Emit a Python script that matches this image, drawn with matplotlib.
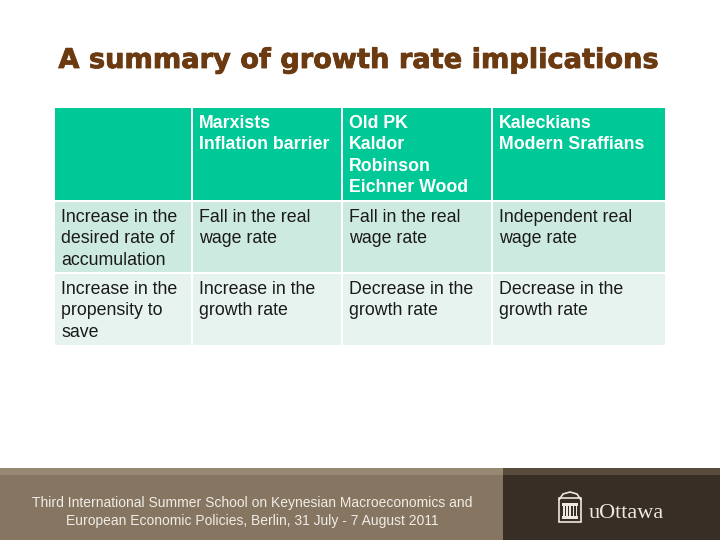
import matplotlib
matplotlib.use("Agg")
import matplotlib.pyplot as plt
import matplotlib.patches as mpatches
import matplotlib.patheffects as pe

TITLE = "A summary of growth rate implications"
COL_HEADERS = ["", "Marxists\nInflation barrier", "Old PK\nKaldor\nRobinson\nEichner Wood",
               "Kaleckians\nModern Sraffians"]
ROW_LABELS = ["Increase in the\ndesired rate of\naccumulation",
              "Increase in the\npropensity to\nsave"]
CELLS = [
    ["Fall in the real\nwage rate", "Fall in the real\nwage rate", "Independent real\nwage rate"],
    ["Increase in the\ngrowth rate", "Decrease in the\ngrowth rate", "Decrease in the\ngrowth rate"],
]
FOOTER = "Third International Summer School on Keynesian Macroeconomics and\nEuropean Economic Policies, Berlin, 31 July - 7 August 2011"

# layout in pixels (figure is 720x540)
col_edges = [55, 192, 342, 492, 665]
row_edges = [108, 201, 273, 345]
gap = 2
row_colors = ["#00C896", "#CDEAE0", "#E7F3EE"]

plt.rcParams["font.family"] = ["Liberation Sans", "DejaVu Sans"]

fig = plt.figure(figsize=(7.2, 5.4), dpi=100)
ax = fig.add_axes([0, 0, 1, 1])
ax.set_xlim(0, 720)
ax.set_ylim(540, 0)
ax.axis("off")

ax.text(358, 61, TITLE, ha="center", va="center", fontsize=19.6, fontweight="bold",
        color="#6B3A10", family=["DejaVu Sans"],
        path_effects=[pe.withStroke(linewidth=0.6, foreground="#6B3A10")])

table = [COL_HEADERS] + [[ROW_LABELS[i]] + CELLS[i] for i in range(len(ROW_LABELS))]
for r, row in enumerate(table):
    y0, y1 = row_edges[r], row_edges[r + 1]
    for c, txt in enumerate(row):
        x0, x1 = col_edges[c], col_edges[c + 1]
        ax.add_patch(mpatches.Rectangle((x0 + (gap / 2 if c else 0), y0 + (gap / 2 if r else 0)),
                                        x1 - x0 - (gap / 2 if c else 0) - (gap / 2 if c < 3 else 0),
                                        y1 - y0 - (gap / 2 if r else 0) - (gap / 2 if r < 2 else 0),
                                        facecolor=row_colors[r], edgecolor="none"))
        if txt:
            ax.text(x0 + 6 + (gap / 2 if c else 0), y0 + 7 + (gap / 2 if r else 0), txt,
                    ha="left", va="top", fontsize=12.8,
                    fontweight="bold" if r == 0 else "normal",
                    color="white" if r == 0 else "#1A1A1A", linespacing=1.33)

# footer band
ax.add_patch(mpatches.Rectangle((0, 468), 503, 72, facecolor="#867561", edgecolor="none"))
ax.add_patch(mpatches.Rectangle((0, 468), 503, 7, facecolor="#978873", edgecolor="none"))
ax.add_patch(mpatches.Rectangle((503, 468), 217, 72, facecolor="#382E25", edgecolor="none"))
ax.add_patch(mpatches.Rectangle((503, 468), 217, 7, facecolor="#5A4C3D", edgecolor="none"))
ax.text(252, 512, FOOTER, ha="center", va="center", fontsize=10, color="#F0ECE6",
        linespacing=1.3)

# uOttawa logo
lc = "#EDE8E0"
ax.add_patch(mpatches.Rectangle((559, 498), 22, 24, facecolor="none", edgecolor=lc, lw=1.2))
ax.add_patch(mpatches.Polygon([[559, 500], [563, 494], [570, 492], [577, 494], [581, 500]],
                              closed=False, facecolor="none", edgecolor=lc, lw=1.2))
ax.add_patch(mpatches.Rectangle((562, 503), 16, 2.5, facecolor=lc, edgecolor="none"))
for k in range(5):
    ax.add_patch(mpatches.Rectangle((563 + k * 3.2, 506), 1.6, 9.5, facecolor=lc, edgecolor="none"))
ax.add_patch(mpatches.Rectangle((562, 516), 16, 2.5, facecolor=lc, edgecolor="none"))
ax.text(589, 513, "uOttawa", ha="left", va="center", fontsize=16, color=lc,
        family=["Liberation Serif", "DejaVu Serif"])

fig.savefig("out.png", dpi=100)
